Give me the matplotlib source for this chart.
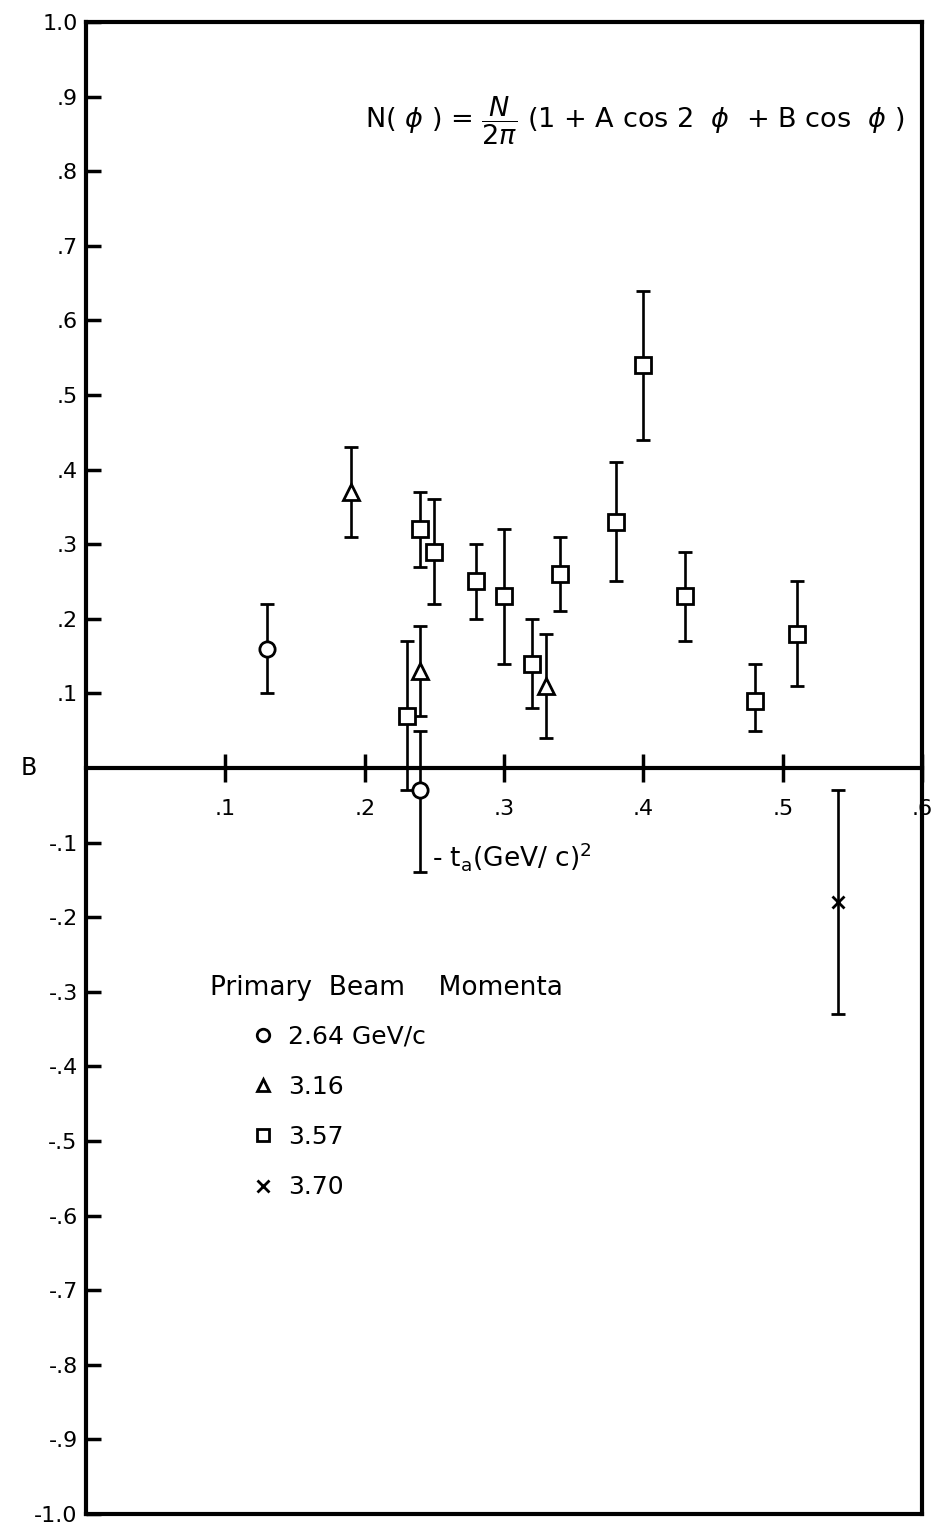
import numpy as np
import matplotlib
matplotlib.use("Agg")
from matplotlib import pyplot as plt
from matplotlib.lines import Line2D

# 2.64 GeV/c (circles)
circ_t = [0.13, 0.24]
circ_b = [0.16, -0.03]
circ_lo = [0.10, -0.14]
circ_hi = [0.22, 0.05]

# 3.16 (triangles)
tri_t = [0.19, 0.24, 0.33]
tri_b = [0.37, 0.13, 0.11]
tri_lo = [0.31, 0.07, 0.04]
tri_hi = [0.43, 0.19, 0.18]

# 3.57 (squares)
sq_t = [0.23, 0.24, 0.25, 0.28, 0.30, 0.32, 0.34, 0.38, 0.40, 0.43, 0.48, 0.51]
sq_b = [0.07, 0.32, 0.29, 0.25, 0.23, 0.14, 0.26, 0.33, 0.54, 0.23, 0.09, 0.18]
sq_lo = [-0.03, 0.27, 0.22, 0.20, 0.14, 0.08, 0.21, 0.25, 0.44, 0.17, 0.05, 0.11]
sq_hi = [0.17, 0.37, 0.36, 0.30, 0.32, 0.20, 0.31, 0.41, 0.64, 0.29, 0.14, 0.25]

# 3.70 (crosses)
x_t = [0.54]
x_b = [-0.18]
x_lo = [-0.33]
x_hi = [-0.03]

legend_labels = ["2.64 GeV/c", "3.16", "3.57", "3.70"]
yticks = [1.0, 0.9, 0.8, 0.7, 0.6, 0.5, 0.4, 0.3, 0.2, 0.1,
          -0.1, -0.2, -0.3, -0.4, -0.5, -0.6, -0.7, -0.8, -0.9, -1.0]
xticks = [0.1, 0.2, 0.3, 0.4, 0.5, 0.6]


def fmt(v):
    s = "%.1f" % abs(v)
    if s.startswith("0"):
        s = s[1:]
    return ("-" + s) if v < 0 else s


plt.rcParams['font.family'] = ['DejaVu Sans']
plt.rcParams['mathtext.fontset'] = 'dejavusans'
fig = plt.figure(figsize=(9.39, 15.30), dpi=100)
ax = fig.add_axes([0.0916, 0.0105, 0.8904, 0.9751])
ax.set_xlim(0, 0.6)
ax.set_ylim(-1.0, 1.0)

lw = 1.9
for t, b, lo, hi, mk, ms in [(circ_t, circ_b, circ_lo, circ_hi, 'o', 11),
                             (tri_t, tri_b, tri_lo, tri_hi, '^', 11),
                             (sq_t, sq_b, sq_lo, sq_hi, 's', 11),
                             (x_t, x_b, x_lo, x_hi, 'x', 9)]:
    t = np.array(t)
    b = np.array(b)
    err = [b - np.array(lo), np.array(hi) - b]
    ax.errorbar(t, b, yerr=err, fmt=mk, ms=ms, mfc='white', mec='black', mew=2,
                ecolor='black', elinewidth=lw, capsize=5, capthick=lw, zorder=5)

# axes look
for s in ['left', 'right', 'top']:
    ax.spines[s].set_linewidth(3)
ax.spines['bottom'].set_position(('data', 0))
ax.spines['bottom'].set_linewidth(3)
ax.axhline(-1.0, color='black', lw=3, clip_on=False)

ax.set_yticks(yticks)
ax.set_yticklabels([fmt(v) for v in yticks])
ax.set_xticks(xticks)
ax.set_xticklabels([fmt(v) for v in xticks])
ax.tick_params(axis='y', direction='in', length=11, width=2.5, labelsize=16, pad=6)
ax.tick_params(axis='x', direction='inout', length=20, width=2.5, labelsize=16, pad=12)

ax.text(-0.047, 0.0, "B", fontsize=17, va='center', ha='left')
ax.text(0.248, -0.118, r"- t$_\mathregular{a}$(GeV/ c)$^\mathregular{2}$", fontsize=19,
        va='center', ha='left')
ax.text(0.587, 0.867,
        r"N( $\phi$ ) = $\dfrac{N}{2\pi}$ (1 + A cos 2  $\phi$  + B cos  $\phi$ )",
        fontsize=19.5, va='center', ha='right')

ax.text(0.089, -0.295, "Primary  Beam    Momenta", fontsize=19, va='center', ha='left')
handles = [Line2D([], [], ls='none', marker=m, ms=ms, mfc='white', mec='black', mew=2)
           for m, ms in [('o', 9), ('^', 9), ('s', 8), ('x', 8)]]
ax.legend(handles, legend_labels, loc='upper left', bbox_to_anchor=(0.17, 0.343),
          frameon=False, fontsize=18, handlelength=1.0, handletextpad=0.5,
          labelspacing=1.05)

fig.savefig("out.png", dpi=100)
